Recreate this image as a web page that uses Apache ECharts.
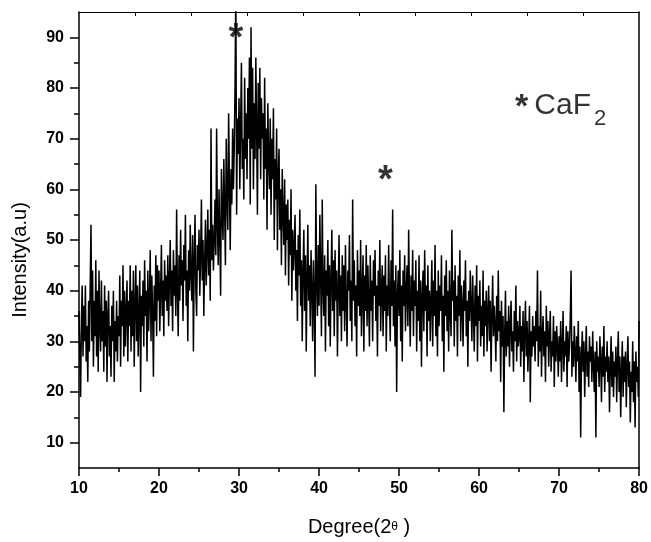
<!DOCTYPE html>
<html>
<head>
<meta charset="utf-8">
<script src="https://cdn.jsdelivr.net/npm/echarts@6/dist/echarts.min.js"></script>
<style>html,body{margin:0;padding:0;background:#fff}#c{width:651px;height:542px}</style>
</head>
<body>
<div id="c"></div>
<script>
// 2θ sampling grid
const twoThetaStart = 10;
const twoThetaStep = 0.1;
// Intensity, 10 samples per degree (10.0 ... 79.9), then 80.0
const intensity = [
36,28,19,34,41,27,37,30,41,26,
33,22,38,28,41,53,30,44,25,38,
31,46,27,40,24,44,33,28,42,30,
36,24,41,29,38,22,35,40,27,33,
23,37,30,40,22,34,28,38,26,35,
31,43,25,38,33,45,27,40,29,36,
42,26,38,33,45,28,40,31,44,25,
37,45,30,41,27,36,44,20,39,33,
42,29,46,35,40,26,44,32,38,48,
30,43,36,23,41,34,47,31,45,38,
44,32,40,49,35,42,31,46,38,43,
36,47,33,42,50,37,44,32,48,39,
45,35,56,40,31,47,38,52,41,46,
34,49,42,55,37,44,30,48,40,53,
43,38,51,28,46,55,40,35,49,44,
52,39,47,58,42,50,35,45,54,41,
48,56,43,52,38,72,46,53,44,50,
58,47,72,53,45,60,51,39,64,55,
50,66,56,45,70,58,52,75,61,48,
64,57,72,60,68,80,100,55,74,67,
78,60,73,85,64,70,58,82,66,75,
62,80,70,86,57,92,68,84,60,77,
66,86,72,55,81,68,84,62,78,70,
75,58,82,64,72,52,77,66,60,74,
55,70,62,76,50,66,58,72,48,63,
68,52,60,45,64,55,49,62,43,57,
50,58,41,54,47,60,38,52,44,49,
55,40,48,34,51,43,56,37,46,30,
44,52,36,47,28,42,53,38,45,33,
48,40,30,46,38,23,61,42,35,49,
37,55,43,31,58,40,35,47,28,44,
39,50,33,45,29,42,52,36,46,31,
48,38,44,27,40,51,35,43,30,47,
36,45,32,49,38,29,44,40,51,34,
42,30,58,38,46,33,41,27,48,37,
44,35,50,31,40,47,28,43,36,49,
33,45,38,29,47,36,42,30,46,39,
48,34,41,27,44,37,50,32,40,45,
31,43,36,47,28,41,35,49,38,30,
46,37,56,33,42,29,45,20,39,44,
35,48,30,41,26,44,37,47,32,40,
45,33,52,38,29,43,36,48,31,42,
37,46,28,40,34,47,30,42,25,39,
44,32,48,36,41,27,45,34,40,30,
38,46,29,42,35,49,31,40,27,44,
33,41,36,47,30,39,24,43,35,46,
32,40,28,44,36,31,52,38,42,29,
45,34,39,27,43,35,48,30,41,37,
29,42,36,46,31,38,25,40,34,44,
37,30,43,35,28,41,33,45,26,39,
34,42,29,37,31,44,27,38,33,40,
28,36,41,30,38,24,35,43,31,37,
33,26,39,30,44,32,36,22,38,29,
35,16,31,40,27,34,29,37,25,33,
38,28,32,24,36,30,41,26,34,29,
31,37,25,33,28,36,22,32,38,27,
34,24,30,37,18,32,27,35,29,33,
26,36,30,44,25,33,28,40,23,31,
35,27,32,22,37,29,34,25,31,36,
24,30,27,35,21,32,26,33,29,23,
31,26,34,22,29,36,24,30,27,33,
21,32,26,29,35,44,23,30,25,33,
28,22,31,26,34,20,29,11,27,32,
24,30,19,27,33,23,28,21,31,26,
29,22,32,25,20,28,11,30,24,27,
21,31,26,18,29,23,33,20,27,24,
30,22,27,16,25,31,21,28,19,26,
23,29,18,26,32,20,27,15,24,30,
19,27,22,28,17,25,31,21,26,14,
24,20,30,18,26,13,28,22,25,19,
34
];

// Axis ticks
const yLabelValues = [10,20,30,40,50,60,70,80,90];
const yMinorValues = [15,25,35,45,55,65,75,85];
const topTickValues = [17,24,31,38,45,52,59,66,73];

// Peak markers (2θ, intensity)
const peakMarkX = [29.6, 48.3];
const peakMarkY = [89.5, 61.6];
// Phase legend anchor (2θ, intensity)
const phaseLabelPos = [64.5, 76.5];
const phaseName = 'CaF';

const FONT = "'Liberation Sans', Arial, sans-serif";

const pts = intensity.map((v, i) => [+(twoThetaStart + i * twoThetaStep).toFixed(2), v]);
const marks = peakMarkX.map((x, i) => [x, peakMarkY[i]]);

const chart = echarts.init(document.getElementById('c'), null, {renderer: 'canvas'});
const axisLineStyle = {color: '#000', width: 1.5};

chart.setOption({
  animation: false,
  backgroundColor: '#fff',
  grid: {left: 79, right: 11, top: 12, bottom: 74, containLabel: false},
  xAxis: [
    {
      type: 'value', position: 'bottom', min: 10, max: 80, interval: 10,
      axisLine: {onZero: false, lineStyle: axisLineStyle},
      axisTick: {inside: false, length: 8, lineStyle: axisLineStyle},
      minorTick: {show: true, splitNumber: 2, length: 4, lineStyle: axisLineStyle},
      splitLine: {show: false},
      axisLabel: {color: '#000', fontSize: 16, fontWeight: 'bold', fontFamily: FONT, margin: 13},
      name: 'Degree(2{t|θ} )', nameLocation: 'middle', nameGap: 49,
      nameTextStyle: {color: '#000', fontSize: 20, fontFamily: FONT,
        rich: {t: {fontSize: 12, fontFamily: FONT, color: '#000'}}}
    },
    {
      type: 'value', position: 'top', min: 10, max: 80,
      axisLine: {onZero: false, lineStyle: {color: '#000', width: 1}},
      axisTick: {inside: true, length: 4, customValues: topTickValues, lineStyle: {color: '#000', width: 1}},
      axisLabel: {show: false}, splitLine: {show: false}
    }
  ],
  yAxis: [
    {
      type: 'value', position: 'left', min: 5, max: 95,
      axisLine: {show: true, onZero: false, lineStyle: axisLineStyle},
      axisTick: {show: true, length: 9, customValues: yLabelValues, lineStyle: axisLineStyle},
      axisLabel: {color: '#000', fontSize: 16, fontWeight: 'bold', fontFamily: FONT, margin: 15, customValues: yLabelValues},
      splitLine: {show: false},
      name: 'Intensity(a.u)', nameLocation: 'middle', nameGap: 49,
      nameTextStyle: {color: '#000', fontSize: 20, fontFamily: FONT, padding: [0, 40, 0, 0]}
    },
    {
      type: 'value', position: 'left', min: 5, max: 95,
      axisLine: {show: false, onZero: false},
      axisTick: {show: true, length: 5, customValues: yMinorValues, lineStyle: axisLineStyle},
      axisLabel: {show: false}, splitLine: {show: false}
    },
    {
      type: 'value', position: 'right', min: 5, max: 95,
      axisLine: {show: true, onZero: false, lineStyle: axisLineStyle},
      axisTick: {show: false}, axisLabel: {show: false}, splitLine: {show: false}
    }
  ],
  series: [
    {
      type: 'line', xAxisIndex: 0, yAxisIndex: 0, data: pts,
      showSymbol: false, symbol: 'none', clip: true,
      lineStyle: {color: '#000', width: 1.5}, z: 2
    },
    {
      type: 'scatter', xAxisIndex: 0, yAxisIndex: 0, data: marks,
      symbolSize: 0, silent: true, z: 5,
      label: {show: true, position: 'inside', formatter: '*', color: '#000',
        fontSize: 38, fontWeight: 'bold', fontFamily: FONT}
    },
    {
      type: 'scatter', xAxisIndex: 0, yAxisIndex: 0, data: [phaseLabelPos],
      symbolSize: 0, silent: true, z: 5,
      label: {show: true, position: 'right', distance: 0,
        formatter: '{s|*}{m|' + phaseName + '}{b|2}',
        rich: {
          s: {fontSize: 34, fontWeight: 'bold', fontFamily: FONT, color: '#000', verticalAlign: 'top', lineHeight: 22, padding: [0, 6, 0, 0]},
          m: {fontSize: 30, fontFamily: FONT, color: '#000', verticalAlign: 'top', lineHeight: 30},
          b: {fontSize: 22, fontFamily: FONT, color: '#000', verticalAlign: 'top', lineHeight: 30, padding: [17, 0, 0, 3]}
        }}
    }
  ]
});
</script>
</body>
</html>
